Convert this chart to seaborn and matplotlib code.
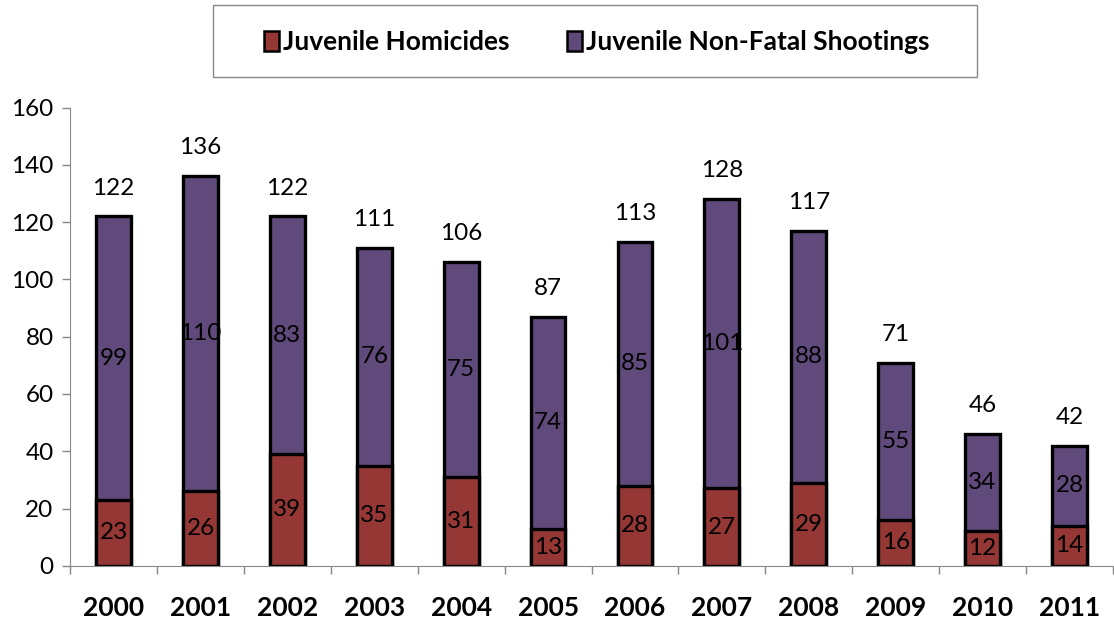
import matplotlib
matplotlib.use('Agg')
import matplotlib.pyplot as plt
from matplotlib.patches import Patch, Rectangle
import seaborn as sns
import pandas as pd

years = ['2000', '2001', '2002', '2003', '2004', '2005',
         '2006', '2007', '2008', '2009', '2010', '2011']
homicides = [23, 26, 39, 35, 31, 13, 28, 27, 29, 16, 12, 14]
nonfatal = [99, 110, 83, 76, 75, 74, 85, 101, 88, 55, 34, 28]

red = '#953735'
purple = '#604A7B'

sns.set_style('white')
plt.rcParams['font.family'] = ['Lato', 'DejaVu Sans']
plt.rcParams['text.color'] = 'black'
plt.rcParams['xtick.color'] = 'black'
plt.rcParams['ytick.color'] = 'black'

df = pd.DataFrame({'year': years, 'hom': homicides, 'nf': nonfatal})
df['total'] = df['hom'] + df['nf']

fig = plt.figure(figsize=(11.14, 6.19), dpi=100)
ax = fig.add_axes([0.063, 0.086, 0.936, 0.74])

# stacked: draw totals first, then homicides on top of them
sns.barplot(data=df, x='year', y='total', color=purple, width=0.4,
            edgecolor='black', linewidth=2.4, saturation=1, ax=ax)
sns.barplot(data=df, x='year', y='hom', color=red, width=0.4,
            edgecolor='black', linewidth=2.4, saturation=1, ax=ax)

fs = 17.5
for i, row in df.iterrows():
    ax.text(i, row['hom'] / 2, str(row['hom']), ha='center', va='center', fontsize=fs)
    ax.text(i, row['hom'] + row['nf'] / 2, str(row['nf']), ha='center', va='center', fontsize=fs)
    ax.annotate(str(row['total']), (i, row['total']), xytext=(0, 20.5),
                textcoords='offset points', ha='center', va='center', fontsize=fs)

ax.set_ylim(0, 160)
ax.set_xlim(-0.5, len(years) - 0.5)
ax.set_yticks(range(0, 161, 20))
ax.set_xlabel('')
ax.set_ylabel('')
ax.tick_params(axis='y', labelsize=fs, length=6, width=1, color='#888888',
               labelcolor='black', direction='out', left=True, pad=6)
ax.tick_params(axis='x', which='major', length=0, labelsize=19, labelcolor='black', pad=22)
for lbl in ax.get_xticklabels():
    lbl.set_fontweight('bold')
ax.set_xticks([x + 0.5 for x in range(-1, len(years))], minor=True)
ax.tick_params(axis='x', which='minor', length=6, width=1, color='#888888', direction='out', bottom=True)

for s in ['top', 'right']:
    ax.spines[s].set_visible(False)
ax.spines['left'].set_color('#888888')
ax.spines['bottom'].set_color('#888888')

# legend box drawn separately so it can be wider than the entries
fig.patches.append(Rectangle((213 / 1114, 1 - 77 / 619), 764 / 1114, 72 / 619,
                             transform=fig.transFigure, facecolor='white',
                             edgecolor='#888888', linewidth=1, zorder=0))

handles = [Patch(facecolor=red, edgecolor='black', linewidth=1.8),
           Patch(facecolor=purple, edgecolor='black', linewidth=1.8)]
fig.legend(handles, ['Juvenile Homicides', 'Juvenile Non-Fatal Shootings'],
           loc='center', bbox_to_anchor=(0.5355, 0.9315), ncol=2,
           prop={'weight': 'bold', 'size': 19}, frameon=False,
           handlelength=0.55, handleheight=0.8, handletextpad=0.15,
           columnspacing=2.2, borderpad=0.75, borderaxespad=0)

fig.savefig('out.png', dpi=100)
